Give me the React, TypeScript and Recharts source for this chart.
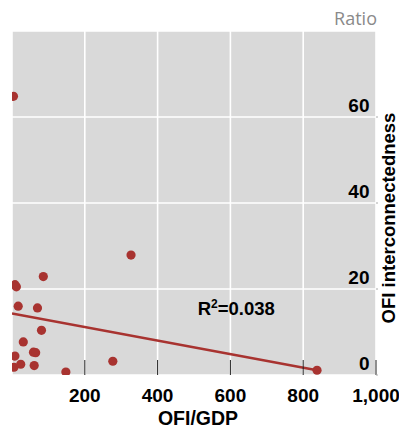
import React from 'react';
import { ScatterChart, Scatter, XAxis, YAxis, CartesianGrid, ReferenceDot } from 'recharts';

const ofiGdp = [4, 86, 8, 12, 17, 70, 327, 81, 31, 8, 59, 65, 5.5, 24, 61, 148, 277, 838];
const ofiInterconnectedness = [64.8, 22.9, 21, 20.5, 16.0, 15.6, 27.9, 10.4, 7.7, 4.4, 5.3, 5.2, 1.8, 2.5, 2.2, 0.7, 3.2, 1.1];
const trendX = [0, 838];
const trendY = [14.3, 1.1];
const xTicks = [200, 400, 600, 800, 1000];
const yTicks = [0, 20, 40, 60];
const annotationX = [616];
const annotationY = [16];
const annotationText = ['R', '2', '=0.038'];

const points = ofiGdp.map((x, i) => ({ x, y: ofiInterconnectedness[i] }));
const trend = trendX.map((x, i) => ({ x, y: trendY[i] }));

const FONT = "'Liberation Sans', Arial, Helvetica, sans-serif";
const RED = '#a83330';

const XTick = (props: any) => {
  const { x, y, payload } = props;
  return (
    <g>
      <line x1={x} x2={x} y1={y - 15} y2={y} stroke="#222" strokeWidth={1} />
      <text x={x} y={y + 26.5} textAnchor="middle" fontFamily={FONT} fontWeight="bold" fontSize={19} fill="#000">
        {Number(payload.value).toLocaleString('en-US')}
      </text>
    </g>
  );
};

const YTick = (props: any) => {
  const { x, y, payload } = props;
  return (
    <g>
      <line x1={x} x2={x + 2} y1={y} y2={y} stroke="#aaa" strokeWidth={1} />
      <text x={x - 6.5} y={y - 5.5} textAnchor="end" fontFamily={FONT} fontWeight="bold" fontSize={19} fill="#000">
        {payload.value}
      </text>
    </g>
  );
};

const Dot = (props: any) => <circle cx={props.cx} cy={props.cy} r={4.6} fill={RED} />;
const NoDot = () => <g />;

export default function App() {
  return (
    <div style={{ position: 'absolute', left: 0, top: 0, width: 399, height: 430, background: '#fff' }}>
      <ScatterChart width={399} height={430} margin={{ top: 31, right: 0, left: 12, bottom: 0 }}>
        <CartesianGrid fill="#d9d9d9" stroke="#ffffff" strokeWidth={1.6} />
        <XAxis
          type="number"
          dataKey="x"
          domain={[0, 1000]}
          ticks={xTicks}
          allowDataOverflow
          height={55}
          axisLine={false}
          tickLine={false}
          tickSize={0}
          tickMargin={0}
          tick={<XTick />}
          interval={0}
          label={(p: any) => {
            const vb = p.viewBox;
            return (
              <text x={vb.x + vb.width / 2 + 4} y={vb.y + 50} textAnchor="middle" fontFamily={FONT} fontWeight="bold" fontSize={19.5} fill="#000">
                OFI/GDP
              </text>
            );
          }}
        />
        <YAxis
          type="number"
          dataKey="y"
          orientation="right"
          domain={[0, 80]}
          ticks={yTicks}
          allowDataOverflow
          width={23}
          axisLine={false}
          tickLine={false}
          tickSize={0}
          tickMargin={0}
          tick={<YTick />}
          interval={0}
          label={(p: any) => {
            const vb = p.viewBox;
            const cx = vb.x + 12;
            const cy = vb.y + vb.height / 2 + 15;
            return (
              <text transform={`translate(${cx}, ${cy}) rotate(-90)`} x={0} y={6.5} textAnchor="middle" fontFamily={FONT} fontWeight="bold" fontSize={18.5} fill="#000">
                OFI interconnectedness
              </text>
            );
          }}
        />
        <Scatter data={trend} line={{ stroke: RED, strokeWidth: 2.4 }} lineType="joint" shape={<NoDot />} isAnimationActive={false} />
        <Scatter data={points} shape={<Dot />} isAnimationActive={false} />
        <ReferenceDot
          x={annotationX[0]}
          y={annotationY[0]}
          r={0}
          fill="none"
          stroke="none"
          label={(p: any) => {
            const vb = p.viewBox;
            return (
              <text x={vb.x} y={vb.y + 8.5} textAnchor="middle" fontFamily={FONT} fontWeight="bold" fontSize={18.5} fill="#000">
                {annotationText[0]}
                <tspan fontSize={12} dy={-7}>{annotationText[1]}</tspan>
                <tspan dy={7}>{annotationText[2]}</tspan>
              </text>
            );
          }}
        />
      </ScatterChart>
      <svg width={399} height={31} style={{ position: 'absolute', left: 0, top: 0 }}>
        <text x={377} y={25} textAnchor="end" fontFamily="'Open Sans', sans-serif" fontSize={18} fill="#8a8a8a">
          Ratio
        </text>
      </svg>
    </div>
  );
}
